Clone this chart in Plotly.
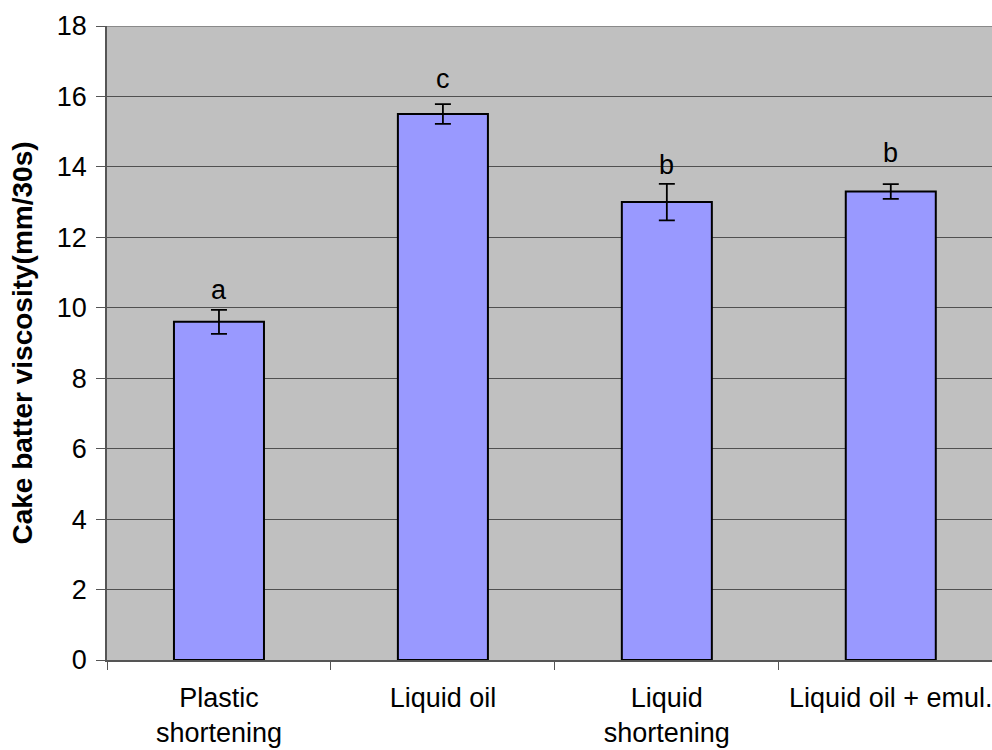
import plotly.graph_objects as go

categories = ["Plastic<br>shortening", "Liquid oil", "Liquid<br>shortening", "Liquid oil + emul."]
viscosity = [9.6, 15.5, 13.0, 13.3]
viscosity_err = [0.34, 0.28, 0.52, 0.21]
group_letters = ["a", "c", "b", "b"]
letter_y = [10.5, 16.5, 14.05, 14.4]
y_ticks = [0, 2, 4, 6, 8, 10, 12, 14, 16, 18]

FONT = "Liberation Sans, Arial, sans-serif"

fig = go.Figure()
fig.add_trace(go.Bar(
    x=categories,
    y=viscosity,
    marker=dict(color="#9999FF", line=dict(color="#000000", width=2)),
    error_y=dict(type="data", array=viscosity_err, visible=True,
                 color="#000000", thickness=1.8, width=8),
    showlegend=False,
))

for cat, ly, txt in zip(categories, letter_y, group_letters):
    fig.add_annotation(x=cat, y=ly, text=txt, showarrow=False,
                       yanchor="middle", font=dict(family=FONT, size=27, color="#000000"))

# top border of the plotting area
fig.add_shape(type="line", xref="paper", yref="y", x0=0, x1=1, y0=18, y1=18,
              line=dict(color="#8a8a8a", width=2))

fig.update_layout(
    width=992, height=750,
    margin=dict(l=107, r=0, t=26, b=90),
    paper_bgcolor="#FFFFFF",
    plot_bgcolor="#C0C0C0",
    bargap=0.598,
    font=dict(family=FONT, size=27, color="#000000"),
    xaxis=dict(
        type="category",
        range=[-0.5, 3.452],
        tickson="boundaries",
        ticks="outside", ticklen=8, tickcolor="#555555", tickwidth=1,
        showline=True, linecolor="#555555", linewidth=1.5,
        showgrid=False,
        ticklabelstandoff=13,
        tickfont=dict(family=FONT, size=27, color="#000000"),
    ),
    yaxis=dict(
        range=[0, 18],
        tickvals=y_ticks,
        ticks="outside", ticklen=9, tickcolor="#555555", tickwidth=1,
        showline=True, linecolor="#555555", linewidth=1.5,
        showgrid=True, gridcolor="#505050", gridwidth=1,
        zeroline=False,
        ticklabelstandoff=4,
        tickfont=dict(family=FONT, size=27, color="#000000"),
        title=dict(text="<b>Cake batter viscosity(mm/30s)</b>",
                   font=dict(family=FONT, size=28, color="#000000"), standoff=16),
    ),
)

fig.write_html("out.html")
